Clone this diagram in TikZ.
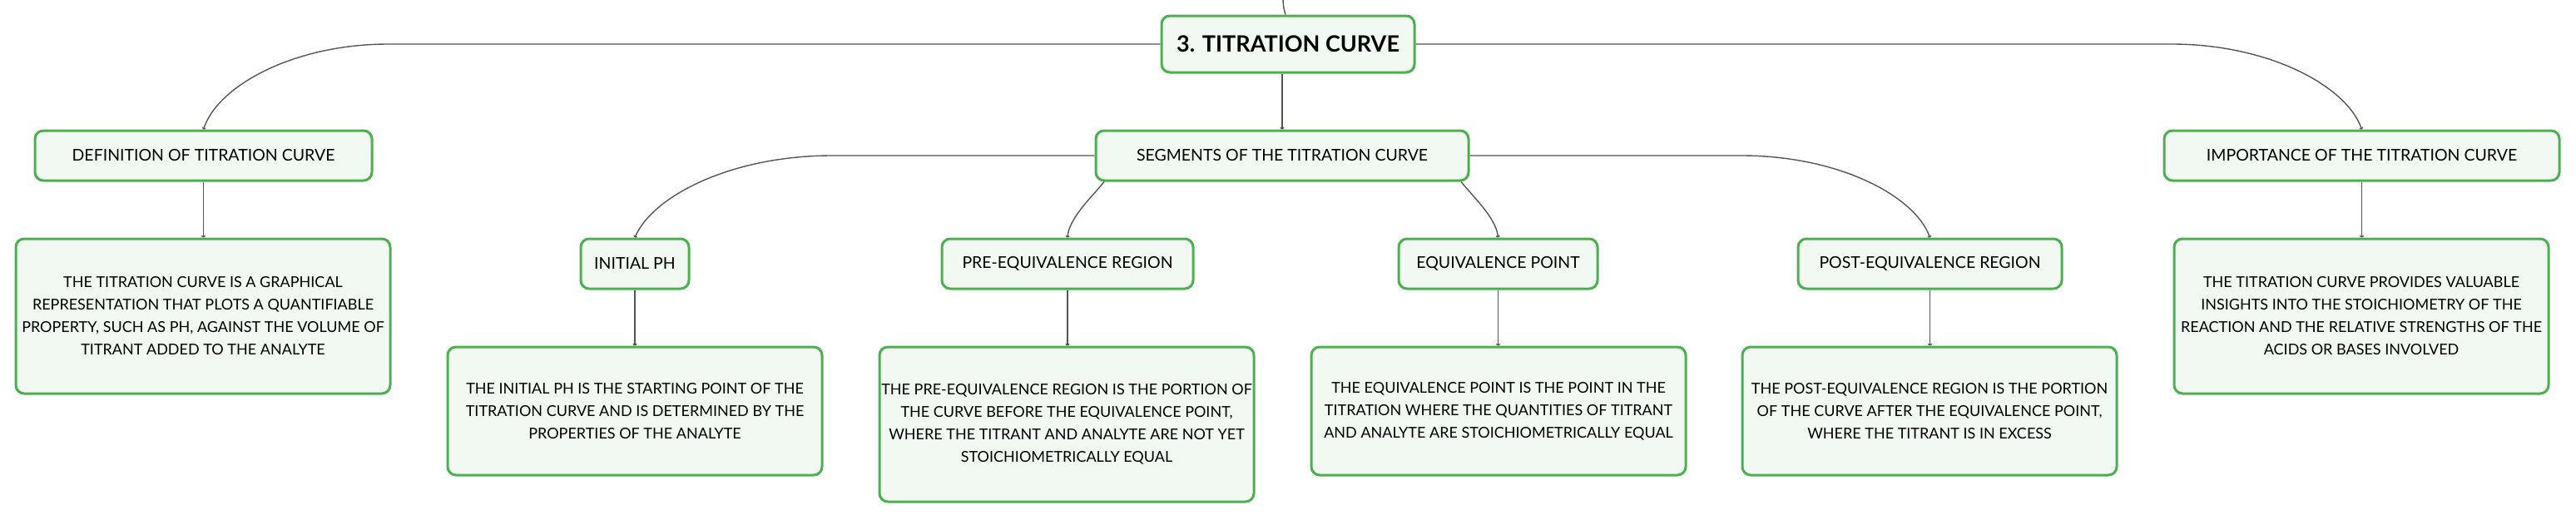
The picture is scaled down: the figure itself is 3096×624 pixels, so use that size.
\documentclass[tikz,border=0pt]{standalone}
\usepackage{fontspec}
\setmainfont{Lato}
\usetikzlibrary{arrows.meta}
\definecolor{boxgreen}{HTML}{4CAF50}
\definecolor{boxfill}{HTML}{F2F9F2}
\definecolor{linegray}{HTML}{555555}
\begin{document}
\begin{tikzpicture}[x=1pt,y=-1pt,
  box/.style={draw=boxgreen,fill=boxfill,line width=3pt,rounded corners=10pt,
    inner sep=0pt,align=center,font=\fontsize{19.5}{27}\selectfont,text=black},
  textbox/.style={box,minimum width=450pt,font=\fontsize{18}{27}\selectfont},
  rootbox/.style={box,font=\fontsize{27}{32}\selectfont\bfseries},
  conn/.style={draw=linegray,line width=1.4pt,-{To[length=2.5pt,width=5pt]}},
  plain/.style={draw=linegray,line width=1.4pt}]
\useasboundingbox (0,0) rectangle (3096,624);

% nodes
\node[rootbox,minimum width=304pt,minimum height=68pt] (root) at (1548,53) {3. TITRATION CURVE};
\node[box,minimum width=405pt,minimum height=60pt] (def) at (244.5,187) {DEFINITION OF TITRATION CURVE};
\node[box,minimum width=448pt,minimum height=60pt] (seg) at (1541,187) {SEGMENTS OF THE TITRATION CURVE};
\node[box,minimum width=475pt,minimum height=60pt] (imp) at (2838.5,187) {IMPORTANCE OF THE TITRATION CURVE};

\node[textbox,minimum height=186pt] (deft) at (244,380) {THE TITRATION CURVE IS A GRAPHICAL\\REPRESENTATION THAT PLOTS A QUANTIFIABLE\\PROPERTY, SUCH AS PH, AGAINST THE VOLUME OF\\TITRANT ADDED TO THE ANALYTE};
\node[textbox,minimum height=186pt] (impt) at (2838,380) {THE TITRATION CURVE PROVIDES VALUABLE\\INSIGHTS INTO THE STOICHIOMETRY OF THE\\REACTION AND THE RELATIVE STRENGTHS OF THE\\ACIDS OR BASES INVOLVED};

\node[box,minimum width=130pt,minimum height=60pt] (ini) at (763,317) {INITIAL PH};
\node[box,minimum width=302pt,minimum height=60pt] (pre) at (1283,317) {PRE-EQUIVALENCE REGION};
\node[box,minimum width=239pt,minimum height=60pt] (eq) at (1800.5,317) {EQUIVALENCE POINT};
\node[box,minimum width=317pt,minimum height=60pt] (post) at (2319.5,317) {POST-EQUIVALENCE REGION};

\node[textbox,minimum height=154pt] (init) at (763,494) {THE INITIAL PH IS THE STARTING POINT OF THE\\TITRATION CURVE AND IS DETERMINED BY THE\\PROPERTIES OF THE ANALYTE};
\node[textbox,minimum height=186pt] (pret) at (1282,510) {THE PRE-EQUIVALENCE REGION IS THE PORTION OF\\THE CURVE BEFORE THE EQUIVALENCE POINT,\\WHERE THE TITRANT AND ANALYTE ARE NOT YET\\STOICHIOMETRICALLY EQUAL};
\node[textbox,minimum height=154pt] (eqt) at (1801,494) {THE EQUIVALENCE POINT IS THE POINT IN THE\\TITRATION WHERE THE QUANTITIES OF TITRANT\\AND ANALYTE ARE STOICHIOMETRICALLY EQUAL};
\node[textbox,minimum height=154pt] (postt) at (2319,494) {THE POST-EQUIVALENCE REGION IS THE PORTION\\OF THE CURVE AFTER THE EQUIVALENCE POINT,\\WHERE THE TITRANT IS IN EXCESS};

% free ends
\coordinate (top) at (1542,-1);
\coordinate (rl) at (467,53);
\coordinate (rr) at (2610,53);
\coordinate (sl) at (1000,187);
\coordinate (sr) at (2093,187);

% connectors
\draw[plain] ([xshift=-3pt]root.north) to[bend left=8] (top);
\draw[conn] (root.west) -- (rl) .. controls (353,53) and (262,103) .. (def.north);
\draw[conn] (root.east) -- (rr) .. controls (2726,53) and (2820,103) .. (imp.north);
\draw[conn] (root.south -| seg.north) -- (seg.north);
\draw[conn] (seg.west) -- (sl) .. controls (880,187) and (785,235) .. (ini.north);
\draw[conn] ([xshift=-214pt]seg.south) .. controls (1312,237) and (1285,262) .. (pre.north);
\draw[conn] ([xshift=215pt]seg.south) .. controls (1771,237) and (1798,262) .. (eq.north);
\draw[conn] (seg.east) -- (sr) .. controls (2209,187) and (2301,235) .. (post.north);
\draw[conn] (def.south) -- (def.south |- deft.north);
\draw[conn] (imp.south) -- (imp.south |- impt.north);
\draw[conn] (ini.south) -- (ini.south |- init.north);
\draw[conn] (pre.south) -- (pre.south |- pret.north);
\draw[conn] (eq.south) -- (eq.south |- eqt.north);
\draw[conn] (post.south) -- (post.south |- postt.north);
\end{tikzpicture}
\end{document}
